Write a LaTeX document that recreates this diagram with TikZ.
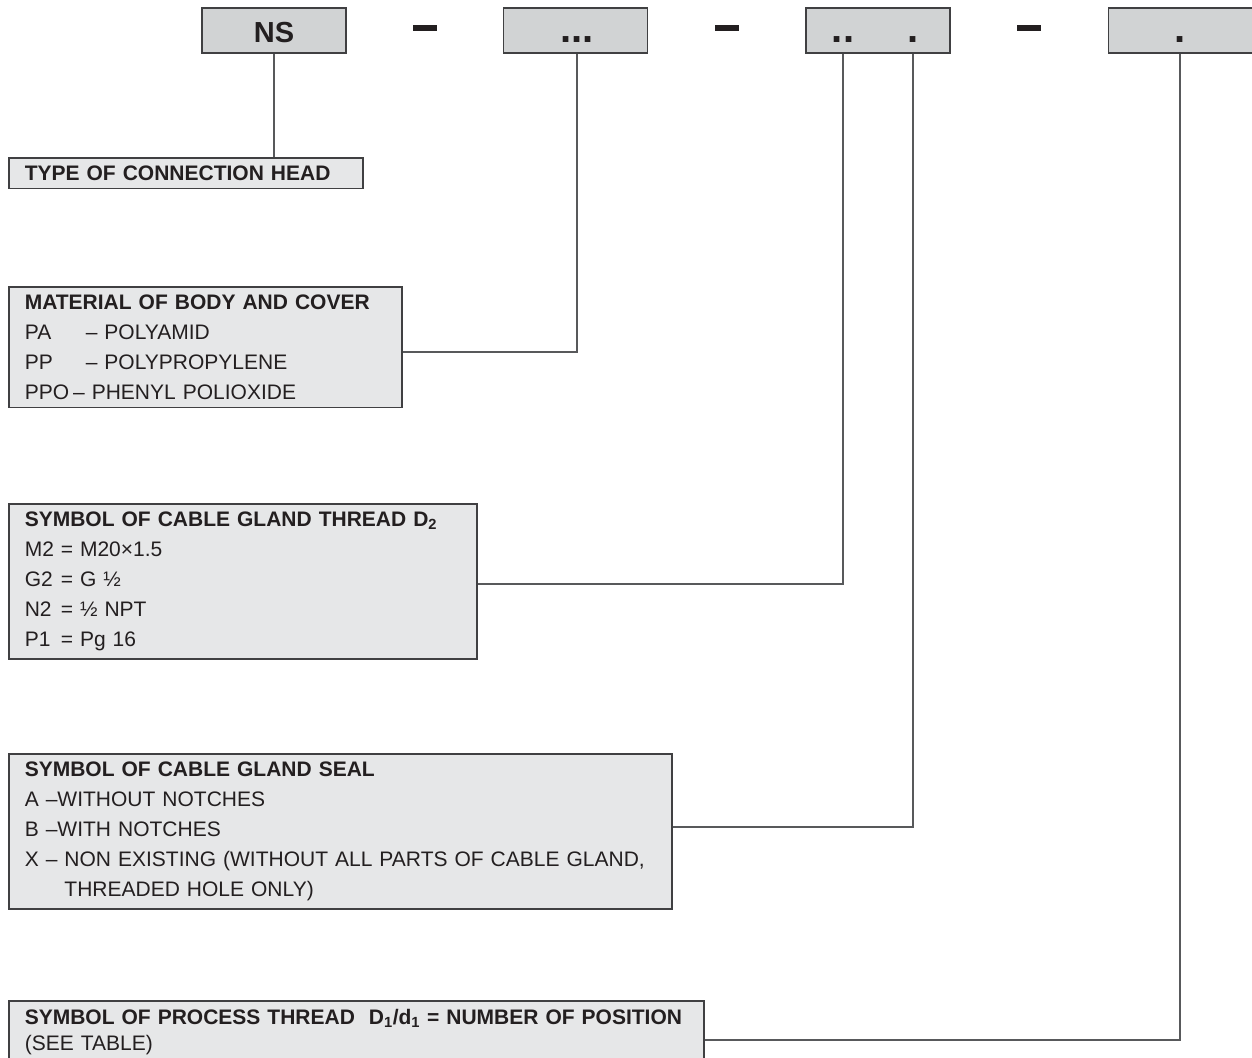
\documentclass[tikz,border=0pt]{standalone}
\usepackage{fontspec}
\setmainfont{Liberation Sans}
\definecolor{slotgrey}{RGB}{209, 211, 212}
\definecolor{panelgrey}{RGB}{230, 231, 232}
\definecolor{edgegrey}{RGB}{64, 64, 66}
\definecolor{wiregrey}{RGB}{88, 89, 91}
\definecolor{inkblack}{RGB}{35, 31, 32}

\tikzset{
  slot/.style={draw=edgegrey, fill=slotgrey, line width=1.6pt, minimum width=144pt, minimum height=45pt, inner sep=0pt},
  panel/.style={draw=edgegrey, fill=panelgrey, line width=1.6pt, anchor=north west, align=left,
                inner xsep=16pt, inner ysep=8pt, text=inkblack, font=\fontsize{21}{30}\selectfont},
  slotlabel/.style={text=inkblack, font=\bfseries\fontsize{29}{29}\selectfont, anchor=base, inner sep=0pt},
  slotdots/.style={text=inkblack, font=\bfseries\fontsize{40}{40}\selectfont, anchor=base, inner sep=0pt},
  wire/.style={draw=wiregrey, line width=1.5pt}
}

\begin{document}
\begin{tikzpicture}[x=1pt, y=-1pt]
    \useasboundingbox (0,0) rectangle (1252,1057);
    % code slots along the top
    \node[slot] (slotHead) at (274,30.5)   {};
    \node[slot] (slotMat)  at (575.5,30.5) {};
    \node[slot] (slotThr)  at (878,30.5)   {};
    \node[slot] (slotPos)  at (1180.5,30.5) {};
    \node[slotlabel] (nsText)    at (274,43)  {NS};
    \node[slotdots]  (dotsMat)   at (577,43)  {...};
    \node[slotdots]  (dotsGland) at (843,43)  {..};
    \node[slotdots]  (dotsSeal)  at (913,43)  {.};
    \node[slotdots]  (dotsPos)   at (1180,43) {.};
    \foreach \x in {425,727,1029}
        \fill[inkblack] (\x-12,25.5) rectangle (\x+12,31.5);
    % explanation panels
    \node[panel, text width=322pt] (boxHead) at (8,157)
        {\textbf{TYPE OF CONNECTION HEAD}};
    \node[panel, text width=361pt] (boxMat) at (8,286)
        {\textbf{MATERIAL OF BODY AND COVER}\\
         \makebox[61pt][l]{PA}– POLYAMID\\
         \makebox[61pt][l]{PP}– POLYPROPYLENE\\
         PPO\kern4pt– PHENYL POLIOXIDE};
    \node[panel, text width=436pt] (boxGland) at (8,503)
        {\textbf{SYMBOL OF CABLE GLAND THREAD D\textsubscript{2}}\\
         \makebox[36pt][l]{M2}= M20×1.5\\
         \makebox[36pt][l]{G2}= G ½\\
         \makebox[36pt][l]{N2}= ½ NPT\\
         \makebox[36pt][l]{P1}= Pg 16};
    \node[panel, text width=631pt] (boxSeal) at (8,753)
        {\textbf{SYMBOL OF CABLE GLAND SEAL}\\
         A –WITHOUT NOTCHES\\
         B –WITH NOTCHES\\
         X – NON EXISTING (WITHOUT ALL PARTS OF CABLE GLAND,\\
         \phantom{X – }THREADED HOLE ONLY)};
    \node[panel, text width=663pt, font=\fontsize{21}{26}\selectfont] (boxProc) at (8,1000)
        {\textbf{SYMBOL OF PROCESS THREAD\ \ D\textsubscript{1}/d\textsubscript{1} = NUMBER OF POSITION}\\
         (SEE TABLE)};
    % leader lines
    \draw[wire] (slotHead.south) -- (slotHead.south |- boxHead.north);
    \draw[wire] ([yshift=-66pt]boxMat.north east)   -| (dotsMat |- slotMat.south);
    \draw[wire] ([yshift=-81pt]boxGland.north east) -| (dotsGland |- slotThr.south);
    \draw[wire] ([yshift=-74pt]boxSeal.north east)  -| (dotsSeal |- slotThr.south);
    \draw[wire] ([yshift=-40pt]boxProc.north east)  -| (dotsPos |- slotPos.south);
\end{tikzpicture}
\end{document}
